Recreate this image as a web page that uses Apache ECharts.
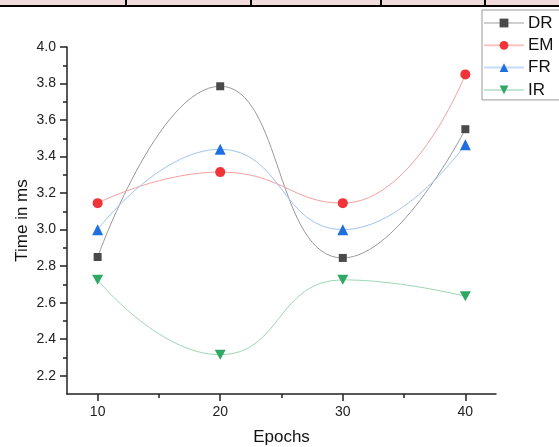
<!DOCTYPE html>
<html>
<head>
<meta charset="utf-8">
<script src="https://cdn.jsdelivr.net/npm/echarts@6/dist/echarts.min.js"></script>
<style>html,body{margin:0;padding:0;background:#fff;}#c{width:559px;height:447px;}</style>
</head>
<body>
<div id="c"></div>
<script>
const epochs = [10, 20, 30, 40];
const seriesNames = ['DR', 'EM', 'FR', 'IR'];
const DR = [2.85, 3.785, 2.845, 3.55];
const EM = [3.145, 3.315, 3.145, 3.85];
const FR = [3.00, 3.44, 3.00, 3.465];
const IR = [2.725, 2.315, 2.725, 2.635];
const xMajorTicks = [10, 20, 30, 40];
const xMinorTicks = [15, 25, 35];
const yMajorTicks = [2.2, 2.4, 2.6, 2.8, 3.0, 3.2, 3.4, 3.6, 3.8, 4.0];
const yMinorTicks = [2.3, 2.5, 2.7, 2.9, 3.1, 3.3, 3.5, 3.7, 3.9];

const FONT = 'Arial, "Liberation Sans", sans-serif';
const styles = {
  DR: {line: '#999999', legendLine: '#cfcfcf', mark: '#4a4a4a', symbol: 'rect', size: 8},
  EM: {line: '#f5a0a0', legendLine: '#f8c4c4', mark: '#f0343a', symbol: 'circle', size: 10},
  FR: {line: '#a0c4f2', legendLine: '#c4dcf6', mark: '#1f6fe0', symbol: 'triangle', size: 11},
  IR: {line: '#9cd6b3', legendLine: '#c4e6d2', mark: '#2fa864', symbol: 'path://M0,0 L10,0 L5,9 Z', size: [11, 10]}
};
const values = {DR, EM, FR, IR};

const chart = echarts.init(document.getElementById('c'));
chart.setOption({
  animation: false,
  backgroundColor: '#fff',
  grid: {left: 67, right: 63, top: 47, bottom: 53, containLabel: false, outerBoundsMode: 'none'},
  legend: {
    orient: 'vertical',
    left: 482, top: 10,
    data: seriesNames.map(n => ({name: n, lineStyle: {color: styles[n].legendLine, width: 2}})),
    itemWidth: 40, itemHeight: 11,
    itemGap: 2.3,
    padding: [3, 20, 0, 1],
    borderColor: '#999', borderWidth: 1,
    backgroundColor: '#fff',
    textStyle: {fontFamily: FONT, fontSize: 17, color: '#111', lineHeight: 20, padding: [0, 0, 0, -1]}
  },
  xAxis: [{
    type: 'value', min: 7.5, max: 42.5,
    name: 'Epochs', nameLocation: 'middle', nameGap: 35, nameMoveOverlap: false,
    nameTextStyle: {fontFamily: FONT, fontSize: 17, color: '#111'},
    axisLine: {show: true, lineStyle: {color: '#222', width: 1.5}},
    axisTick: {show: true, customValues: xMajorTicks, length: 7, lineStyle: {color: '#222', width: 1.5}},
    axisLabel: {customValues: xMajorTicks, fontFamily: FONT, fontSize: 14, color: '#222', margin: 11},
    splitLine: {show: false}
  }, {
    type: 'value', min: 7.5, max: 42.5, position: 'bottom',
    axisLine: {show: false},
    axisTick: {show: true, customValues: xMinorTicks, length: 4, lineStyle: {color: '#222', width: 1.5}},
    axisLabel: {show: false},
    splitLine: {show: false}
  }],
  yAxis: [{
    type: 'value', min: 2.1, max: 4.0,
    name: 'Time in ms', nameLocation: 'middle', nameGap: 36, nameMoveOverlap: false,
    nameTextStyle: {fontFamily: FONT, fontSize: 17, color: '#111'},
    axisLine: {show: true, lineStyle: {color: '#222', width: 1.5}},
    axisTick: {show: true, customValues: yMajorTicks, length: 7, lineStyle: {color: '#222', width: 1.5}},
    axisLabel: {customValues: yMajorTicks, fontFamily: FONT, fontSize: 14, color: '#222', margin: 11,
      formatter: v => Number(v).toFixed(1)},
    splitLine: {show: false}
  }, {
    type: 'value', min: 2.1, max: 4.0, position: 'left',
    axisLine: {show: false},
    axisTick: {show: true, customValues: yMinorTicks, length: 4, lineStyle: {color: '#222', width: 1.5}},
    axisLabel: {show: false},
    splitLine: {show: false}
  }],
  graphic: [
    {type: 'rect', shape: {x: 0, y: 0, width: 559, height: 5}, style: {fill: '#f2dcdb'}, silent: true},
    {type: 'rect', shape: {x: 0, y: 5, width: 559, height: 2}, style: {fill: '#000'}, silent: true},
    {type: 'rect', shape: {x: 125, y: 0, width: 2, height: 6}, style: {fill: '#000'}, silent: true},
    {type: 'rect', shape: {x: 250, y: 0, width: 2, height: 6}, style: {fill: '#000'}, silent: true},
    {type: 'rect', shape: {x: 380, y: 0, width: 2, height: 6}, style: {fill: '#000'}, silent: true},
    {type: 'rect', shape: {x: 484, y: 0, width: 2, height: 6}, style: {fill: '#000'}, silent: true}
  ],
  series: seriesNames.map(n => ({
    name: n, type: 'line', smooth: 0.5,
    xAxisIndex: 0, yAxisIndex: 0,
    data: epochs.map((e, i) => [e, values[n][i]]),
    symbol: styles[n].symbol, symbolSize: styles[n].size,
    lineStyle: {color: styles[n].line, width: 1},
    itemStyle: {color: styles[n].mark},
    emphasis: {disabled: true}
  }))
});
</script>
</body>
</html>
